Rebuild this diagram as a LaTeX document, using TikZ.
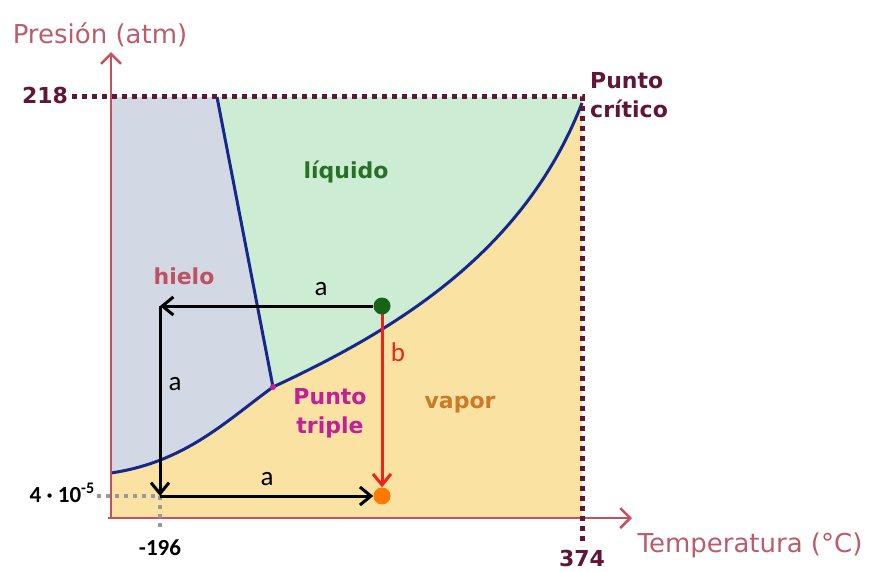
\documentclass[tikz,border=0pt]{standalone}
\usepackage{fontspec}
\setmainfont{DejaVu Sans}
\newfontfamily\calfont{Carlito}
\usetikzlibrary{arrows.meta}
\definecolor{axisred}{RGB}{196,82,92}
\definecolor{axistext}{RGB}{186,92,108}
\definecolor{maroon}{RGB}{95,22,55}
\definecolor{icefill}{RGB}{210,216,228}
\definecolor{liqfill}{RGB}{204,236,212}
\definecolor{vapfill}{RGB}{250,226,162}
\definecolor{curveblue}{RGB}{22,40,140}
\definecolor{liqgreen}{RGB}{40,112,40}
\definecolor{icered}{RGB}{190,82,96}
\definecolor{vaporange}{RGB}{205,122,40}
\definecolor{triplemag}{RGB}{192,32,152}
\definecolor{bred}{RGB}{238,36,28}
\definecolor{dotgreen}{RGB}{22,100,24}
\definecolor{dotorange}{RGB}{255,120,0}
\begin{document}
\begin{tikzpicture}[x=1pt,y=-1pt,
  axis/.style={draw=axisred, line width=2.5pt, -{Straight Barb[length=10pt,width=20pt,line width=2.5pt]}},
  axislabel/.style={text=axistext, font=\fontsize{26}{30}\selectfont},
  boldlabel/.style={font=\fontsize{22}{29}\selectfont\bfseries, inner sep=1pt},
  ticklabel/.style={font=\calfont\fontsize{23}{26}\selectfont\bfseries, inner sep=1pt},
  pathlabel/.style={font=\calfont\fontsize{27}{30}\selectfont, inner sep=1pt},
  critline/.style={draw=maroon, line width=5pt, dash pattern=on 5pt off 5pt},
  helpline/.style={draw=gray!80, line width=4pt, dash pattern=on 4pt off 5pt},
  phaseline/.style={draw=curveblue, line width=3pt},
  move/.style={line width=3pt, -{Straight Barb[length=11pt,width=18pt,line width=3pt]}},
  statedot/.style={circle, inner sep=0pt, minimum size=17pt}]
\useasboundingbox (0,0) rectangle (872,571);

% regions
\fill[vapfill] (111,97) rectangle (582,518);
\fill[icefill] (111,97) -- (217,97) -- (273,387)
  .. controls (225,422) and (185,462) .. (111,473) -- cycle;
\fill[liqfill] (217,97) -- (582,97) -- (582,103)
  .. controls (525,250) and (400,328) .. (273,387) -- cycle;

% phase boundaries
\coordinate (tp) at (273,387);
\coordinate (cp) at (582,103);
\draw[phaseline] (217,97) -- (tp);
\draw[phaseline] (111,473) .. controls (185,462) and (225,422) .. (tp);
\draw[phaseline] (tp) .. controls (400,328) and (525,250) .. (cp);
\fill[triplemag] (tp) circle (3pt);

% axes
\draw[axis] (111,518) -- (111,52);
\draw[axis] (108,518) -- (632,518);
\node[axislabel] (ylab) at (100,35) {Presión (atm)};
\node[axislabel, anchor=west] (xlab) at (634,545) {Temperatura (°C)};

% critical point
\draw[critline] (72,96) -- (582,96) -- (582,546);
\node[boldlabel, text=maroon] (p218) at (45,95) {218};
\node[boldlabel, text=maroon] (t374) at (582,558) {374};
\node[boldlabel, text=maroon, align=left, anchor=west] (crit) at (589,95) {Punto\\crítico};

% triple point helpers
\draw[helpline] (97,496) -- (160,496) -- (160,531);
\node[ticklabel, anchor=east] (p4) at (96,493) {4 · 10\textsuperscript{-5}};
\node[ticklabel] (t196) at (160,548) {-196};

% phase names
\node[boldlabel, text=liqgreen] (liquido) at (346,172) {líquido};
\node[boldlabel, text=icered] (hielo) at (184,276) {hielo};
\node[boldlabel, text=vaporange] (vapor) at (460,405) {vapor};
\node[boldlabel, text=triplemag, align=center] (triple) at (330,413) {Punto\\triple};

% paths a and b
\coordinate (c1) at (160,306);
\coordinate (c2) at (160,496);
\node[statedot, fill=dotorange] (end) at (382,496) {};
\draw[move, draw=bred] (382,306) -- (end);
\node[statedot, fill=dotgreen] (start) at (382,306) {};
\draw[move] (start) -- (c1);
\draw[move] (c1) -- (c2);
\draw[move] (c2) -- (end);
\node[pathlabel] (a1) at (321,289) {a};
\node[pathlabel] (a2) at (175,384) {a};
\node[pathlabel] (a3) at (267,479) {a};
\node[pathlabel, text=bred] (b) at (398,352) {b};
\end{tikzpicture}
\end{document}
